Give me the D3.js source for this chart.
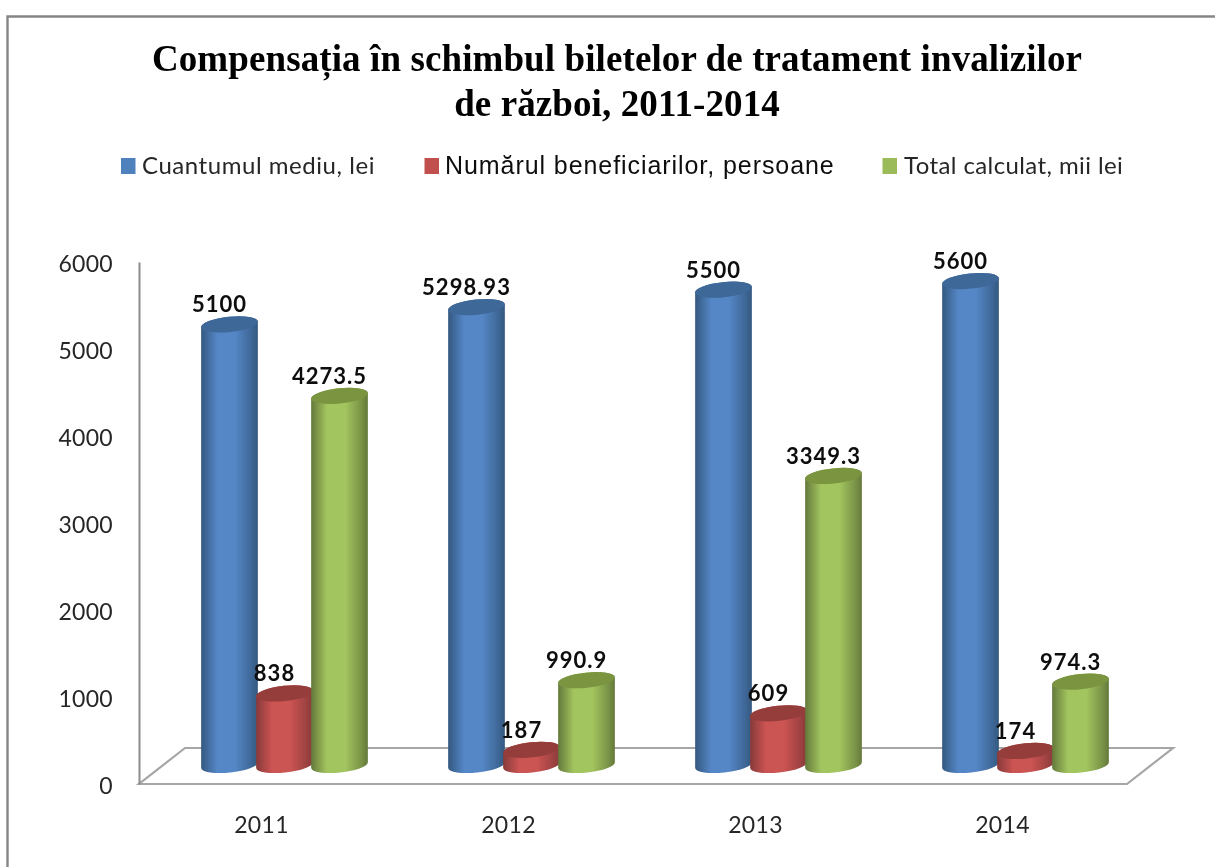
<!DOCTYPE html>
<html><head><meta charset="utf-8">
<script src="https://cdnjs.cloudflare.com/ajax/libs/d3/7.8.5/d3.min.js"></script>
<style>html,body{margin:0;padding:0;background:#fff}svg{display:block}</style>
</head><body><svg id="c" width="1215" height="867"></svg>
<script>
const years = ["2011","2012","2013","2014"];
const seriesNames = ["Cuantumul mediu, lei","Numărul beneficiarilor, persoane","Total calculat, mii lei"];
const cuantum = [5100,5298.93,5500,5600];
const numar = [838,187,609,174];
const total = [4273.5,990.9,3349.3,974.3];
const valueLabels = [["5100","5298.93","5500","5600"],["838","187","609","174"],["4273.5","990.9","3349.3","974.3"]];
const tickValues = [0,1000,2000,3000,4000,5000,6000];
const titleLines = ["Compensația în schimbul biletelor de tratament invalizilor","de război, 2011-2014"];
const allSeries = [cuantum,numar,total];
const palette = [
 {dark:"#34587f",mid:"#5486c6",cap:"#3e6797",leg:"#4f81bd"},
 {dark:"#87393a",mid:"#cb5452",cap:"#943c3a",leg:"#c0504d"},
 {dark:"#64793a",mid:"#a3c55f",cap:"#7a9440",leg:"#9bbb59"}];

const svg = d3.select("#c");
const defs = svg.append("defs");
palette.forEach((p,i)=>{
  const g = defs.append("linearGradient").attr("id","g"+i).attr("x1",0).attr("x2",1).attr("y1",0).attr("y2",0);
  [[0,p.dark],[.28,p.mid],[.6,p.mid],[.88,d3.interpolateRgb(p.mid,p.dark)(.65)],[1,p.dark]]
    .forEach(s=>g.append("stop").attr("offset",s[0]).attr("stop-color",s[1]));
});
defs.append("filter").attr("id","soft").attr("x","-5%").attr("y","-5%").attr("width","110%").attr("height","110%")
  .append("feGaussianBlur").attr("stdDeviation",0.5);

const root = svg.append("g").attr("filter","url(#soft)");

// frame
root.append("path").attr("d","M7.5,867V16.5H1215").attr("fill","none").attr("stroke","#868686").attr("stroke-width",2.4);

// title
root.append("g").selectAll("text").data(titleLines).join("text")
  .attr("x",617).attr("y",(d,i)=>71+i*45)
  .attr("text-anchor","middle").attr("font-family","Liberation Serif").attr("font-weight","bold")
  .attr("font-size",37).attr("letter-spacing",0.1).attr("fill","#000").text(d=>d);

// legend
const swatchX = [121,424.5,882.5], legTextX = [142,445,904];
const legFont = ["Lato","Liberation Sans","Lato"], legSize = [24,25,24], legSpacing = [0.55,0.93,0.4];
const legend = root.append("g").selectAll("g").data(seriesNames).join("g");
legend.append("rect").attr("x",(d,i)=>swatchX[i]).attr("y",158).attr("width",14.5).attr("height",16)
  .attr("fill",(d,i)=>palette[i].leg);
legend.append("text").attr("x",(d,i)=>legTextX[i]).attr("y",174)
  .attr("font-family",(d,i)=>legFont[i])
  .attr("font-size",(d,i)=>legSize[i]).attr("letter-spacing",(d,i)=>legSpacing[i])
  .attr("fill",(d,i)=>i==1?"#111":"#262626").text(d=>d);

// axes
const axisY = d3.scaleLinear().domain([0,6000]).range([784,262]);
const floorDX = 46, floorDY = -36;
const xBand = d3.scaleBand().domain(years).range([139,1127]).paddingInner(0).paddingOuter(0);

const floor = d3.line();
const fl = xBand.range(), by = axisY(0);
root.append("path").attr("d",floor([[fl[1],by],[fl[1]+floorDX,by+floorDY],[fl[0]+floorDX,by+floorDY],[fl[0],by]])+"Z")
  .attr("fill","none").attr("stroke","#a6a6a6").attr("stroke-width",2.2);

const yAx = root.append("g").attr("transform","translate(139,0)").call(d3.axisLeft(axisY).tickValues(tickValues).tickSize(0).tickPadding(26).tickFormat(d3.format("d")));
yAx.select(".domain").attr("stroke","#8c8c8c").attr("stroke-width",2);
yAx.selectAll("text").attr("font-family","Lato").attr("font-size",23).attr("letter-spacing",0.3).attr("fill","#262626").attr("dy","0.4em");

const xAx = root.append("g").attr("transform","translate(0,826)").call(d3.axisBottom(xBand).tickSize(0).tickPadding(0));
xAx.select(".domain").remove();
xAx.selectAll("text").attr("font-family","Lato").attr("font-size",23).attr("letter-spacing",0.3).attr("fill","#262626").attr("dy",".32em").attr("dx",-1);

// cylinders
const y = d3.scaleLinear().domain([0,6000]).range([766,246.4]);
const seriesBand = d3.scaleBand().domain(d3.range(3)).range([0,165]);
const rx = 28.5, ry = 7.6, tilt = -6;
const s = Math.sin(-tilt*Math.PI/180)*rx, cx = Math.cos(tilt*Math.PI/180)*rx;
const groupX = d => xBand(d)+63;

allSeries.forEach((vals,si)=>{
  const g = root.append("g");
  const cols = g.selectAll("g").data(vals.map((v,i)=>({v,yr:years[i]}))).join("g")
    .attr("transform",d=>`translate(${groupX(d.yr)+seriesBand(si)+rx-1},0)`);
  cols.append("path").attr("fill",`url(#g${si})`).attr("d",d=>{
    const t=y(d.v), b=y(0)-1;
    return `M${-cx},${t+s}L${-cx},${b+s}A${rx},${ry} ${tilt} 0 0 ${cx},${b-s}L${cx},${t-s}A${rx},${ry} ${tilt} 0 0 ${-cx},${t+s}Z`;
  });
  cols.append("ellipse").attr("rx",rx).attr("ry",ry).attr("fill",palette[si].cap)
    .attr("transform",d=>`translate(0,${y(d.v)}) rotate(${tilt})`);
  cols.append("text").attr("text-anchor","middle").attr("x",-10)
    .attr("y",d=>y(d.v)-12).attr("font-family","Lato").attr("font-weight","bold")
    .attr("font-size",22).attr("letter-spacing",1).attr("fill","#0a0a0a")
    .text((d,i)=>valueLabels[si][i]);
});
</script></body></html>
